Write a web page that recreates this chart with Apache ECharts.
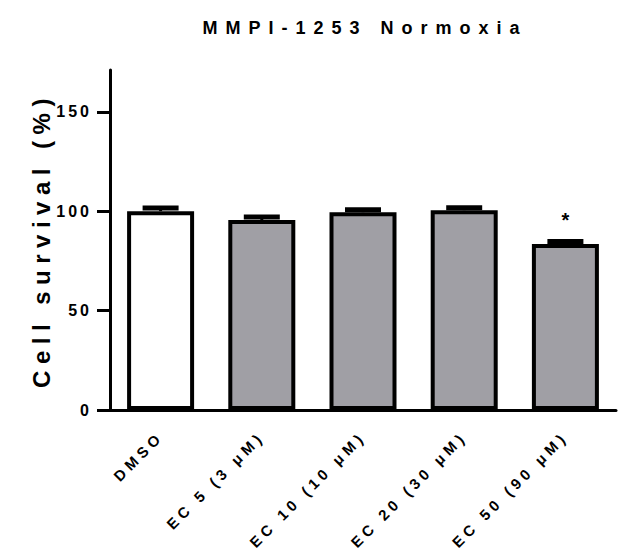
<!DOCTYPE html>
<html>
<head>
<meta charset="utf-8">
<script src="https://cdn.jsdelivr.net/npm/echarts@6/dist/echarts.min.js"></script>
<style>
  html, body { margin: 0; padding: 0; background: #fff; }
  #chart { width: 618px; height: 557px; }
  text[style*="18px"] { letter-spacing: 8px; }
  text[style*="24px"] { letter-spacing: 6.5px; }
  text[style*="16px"] { letter-spacing: 3px; }
  text[style*="15px"] { letter-spacing: 4.5px; }
</style>
</head>
<body>
<div id="chart"></div>
<script>
const titleText = 'MMPI-1253 Normoxia';
const yAxisTitle = 'Cell survival (%)';
const categories = ['DMSO', 'EC 5 (3 μM)', 'EC 10 (10 μM)', 'EC 20 (30 μM)', 'EC 50 (90 μM)'];
const survival = [100, 95.5, 99.5, 100.5, 83.5];
const errors = [1.6, 1.6, 1.2, 1.2, 1.2];
const significance = ['', '', '', '', '*'];
const yTicks = [0, 50, 100, 150];
const barColors = ['#ffffff', '#a09fa5', '#a09fa5', '#a09fa5', '#a09fa5'];

const FONT = '"Liberation Sans", Arial, sans-serif';
const chart = echarts.init(document.getElementById('chart'), null, { renderer: 'svg' });

chart.setOption({
  animation: false,
  title: {
    text: titleText,
    left: 360,
    top: 14,
    textAlign: 'center',
    textStyle: { fontFamily: FONT, fontSize: 18, fontWeight: 'bold', color: '#000' }
  },
  grid: { left: 110, right: 2, top: 70, bottom: 147, containLabel: false },
  xAxis: {
    type: 'category',
    data: categories,
    axisLine: { lineStyle: { color: '#000', width: 3 } },
    axisTick: { alignWithLabel: true, length: 9, lineStyle: { color: '#000', width: 3 } },
    axisLabel: {
      rotate: 45, margin: 24, interval: 0,
      fontFamily: FONT, fontSize: 15, fontWeight: 'bold', color: '#000'
    }
  },
  yAxis: {
    type: 'value',
    min: 0, max: 171, interval: 50,
    name: yAxisTitle,
    nameLocation: 'middle',
    nameGap: 57,
    nameTextStyle: { fontFamily: FONT, fontSize: 24, fontWeight: 'bold', color: '#000' },
    splitLine: { show: false },
    axisLine: { show: true, lineStyle: { color: '#000', width: 3 } },
    axisTick: { show: true, length: 13, customValues: yTicks, lineStyle: { color: '#000', width: 3 } },
    axisLabel: {
      customValues: yTicks, margin: 18,
      fontFamily: FONT, fontSize: 16, fontWeight: 'bold', color: '#000'
    }
  },
  series: [
    {
      type: 'bar',
      barWidth: 67,
      data: survival.map((v, i) => ({
        value: v,
        itemStyle: { color: barColors[i], borderColor: '#000', borderWidth: 4 }
      })),
      z: 2
    },
    {
      type: 'custom',
      z: 3,
      data: survival.map((v, i) => [i, v, errors[i], significance[i]]),
      renderItem: function (params, api) {
        const x = api.coord([api.value(0), 0])[0];
        const yMean = api.coord([api.value(0), api.value(1)])[1];
        const yTop = api.coord([api.value(0), api.value(1) + api.value(2)])[1];
        const children = [
          { type: 'line', shape: { x1: x, y1: yMean, x2: x, y2: yTop }, style: { stroke: '#000', lineWidth: 3 } },
          { type: 'rect', shape: { x: x - 18, y: yTop - 2.5, width: 36, height: 5 }, style: { fill: '#000' } }
        ];
        const mark = significance[params.dataIndex];
        if (mark) {
          children.push({
            type: 'text',
            style: { text: mark, x: x, y: yTop - 22, align: 'center', verticalAlign: 'middle',
              font: 'bold 20px ' + FONT, fill: '#000' }
          });
        }
        return { type: 'group', children: children };
      }
    }
  ]
});
</script>
</body>
</html>
